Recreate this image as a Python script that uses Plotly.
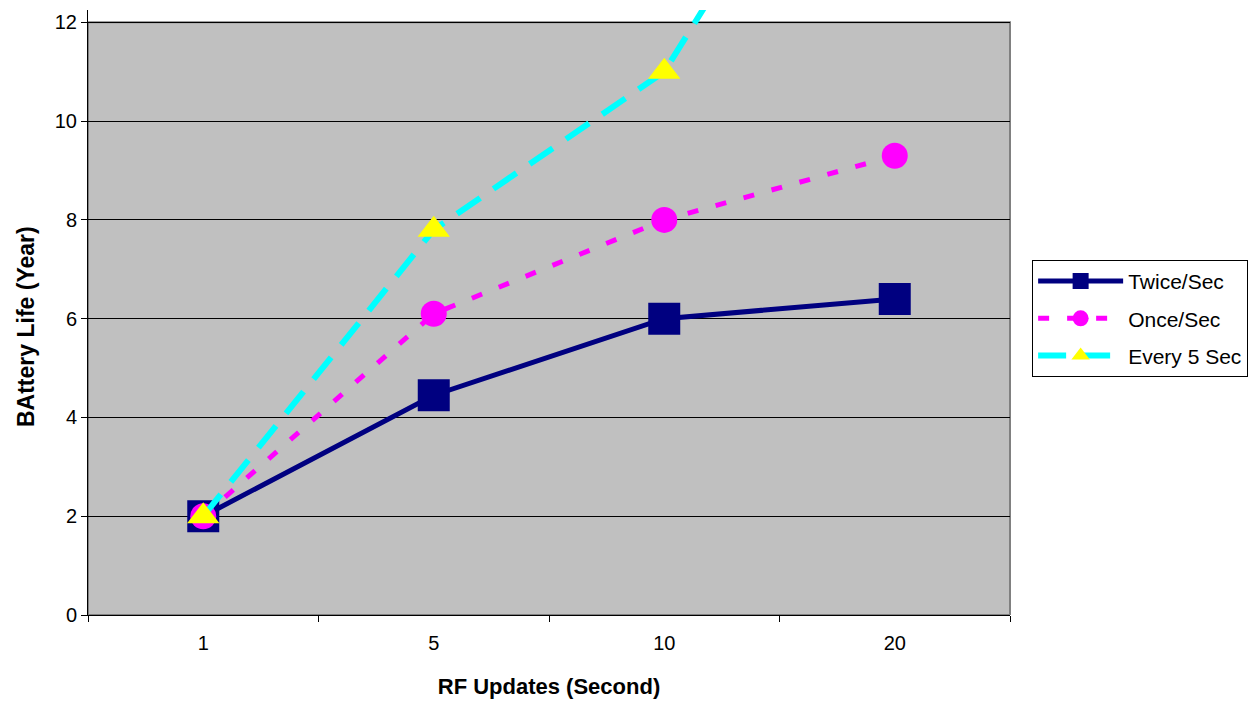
import plotly.graph_objects as go

categories = ["1", "5", "10", "20"]
twice_per_sec = [2.0, 4.45, 6.0, 6.4]
once_per_sec = [2.0, 6.1, 8.0, 9.3]
every_5_sec = [2.0, 7.8, 11.0, 18.5]
y_ticks = [0, 2, 4, 6, 8, 10, 12]

FONT = "Liberation Sans, Arial, sans-serif"

fig = go.Figure()
fig.add_trace(go.Scatter(
    x=categories, y=twice_per_sec, name="Twice/Sec", mode="lines+markers",
    line=dict(color="#000080", width=5),
    marker=dict(symbol="square", size=32, color="#000080"),
    legendgroup="a",
))
fig.add_trace(go.Scatter(
    x=categories, y=once_per_sec, name="Once/Sec", mode="lines+markers",
    line=dict(color="#FF00FF", width=5, dash="11px,18px"),
    marker=dict(symbol="circle", size=26, color="#FF00FF"),
    legendgroup="b",
))
fig.add_trace(go.Scatter(
    x=categories, y=every_5_sec, name="Every 5 Sec", mode="lines+markers",
    line=dict(color="#00FFFF", width=6, dash="28px,16px"),
    marker=dict(symbol="triangle-up", size=28, color="#FFFF00"),
    legendgroup="c",
))

fig.update_layout(
    width=1249, height=696,
    margin=dict(l=80, r=247, t=2, b=89),
    paper_bgcolor="white", plot_bgcolor="white",
    font=dict(family=FONT, size=20, color="black"),
    showlegend=True,
    legend=dict(
        x=1.024, y=0.587, xanchor="left", yanchor="top",
        bgcolor="white", bordercolor="black", borderwidth=1,
        font=dict(family=FONT, size=21, color="black"),
        tracegroupgap=7, itemwidth=85,
    ),
    shapes=[
        dict(type="rect", xref="paper", yref="y", x0=0, x1=1, y0=0, y1=12,
             fillcolor="#C0C0C0", line=dict(width=0), layer="below"),
        dict(type="rect", xref="paper", yref="y", x0=0, x1=1, y0=0, y1=12,
             fillcolor="rgba(0,0,0,0)", line=dict(color="#808080", width=2), layer="between"),
    ],
    annotations=[
        dict(text="<b>BAttery Life (Year)</b>", textangle=-90, showarrow=False,
             xref="paper", yref="paper", x=0, y=0.476, xanchor="center", yanchor="middle",
             xshift=-62, font=dict(family=FONT, size=23, color="black")),
    ],
)
fig.update_xaxes(
    type="category", tickson="boundaries", ticks="outside", ticklen=6,
    tickcolor="black", showline=True, linecolor="black", linewidth=1,
    showgrid=False, range=[-0.5, 3.5], ticklabelstandoff=10,
    title=dict(text="<b>RF Updates (Second)</b>", font=dict(family=FONT, size=22), standoff=25),
    tickfont=dict(family=FONT, size=20),
)
fig.update_yaxes(
    range=[0, 12.25], tickvals=y_ticks, ticks="outside", ticklen=6,
    tickcolor="black", showline=True, linecolor="black", linewidth=1,
    showgrid=True, gridcolor="black", gridwidth=1, zeroline=False,
    tickfont=dict(family=FONT, size=20),
)

fig.write_html("out.html")
